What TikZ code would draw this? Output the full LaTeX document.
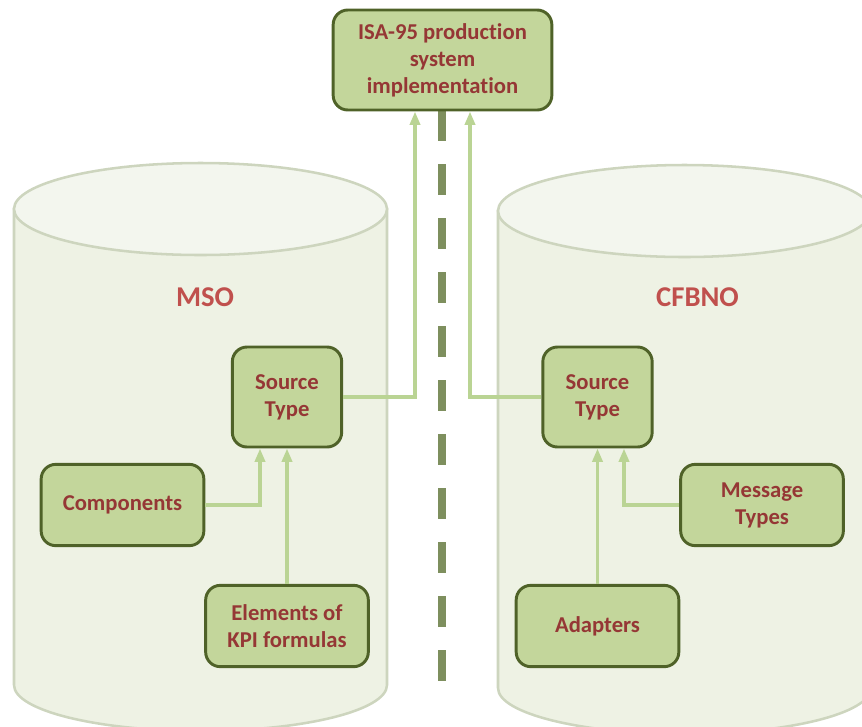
\documentclass[tikz,border=0pt]{standalone}
\usepackage{fontspec}
\setmainfont{Carlito}[Ligatures=NoCommon]
\usetikzlibrary{arrows.meta,calc}

\definecolor{cylfill}{HTML}{EEF2E4}
\definecolor{cyltop}{HTML}{F3F6EE}
\definecolor{cylline}{HTML}{CDD5BE}
\definecolor{boxfill}{HTML}{C3D69B}
\definecolor{boxline}{HTML}{4F6228}
\definecolor{boxtext}{HTML}{953735}
\definecolor{dbtext}{HTML}{C0504D}
\definecolor{connline}{HTML}{BAD494}
\definecolor{divline}{HTML}{7E8F5E}

\tikzset{
  cylbody/.style={fill=cylfill, draw=cylline, line width=1.9pt},
  cyllid/.style={fill=cyltop, draw=cylline, line width=1.9pt},
  entity/.style={draw=boxline, fill=boxfill, line width=2.2pt,
    rounded corners=11pt, align=center, text=boxtext,
    font=\fontsize{17}{20.25}\selectfont\bfseries, inner sep=0pt},
  smallbox/.style={entity, minimum width=122pt, minimum height=61pt},
  dblabel/.style={text=dbtext, font=\fontsize{21.5}{25}\selectfont\bfseries},
  conn/.style={draw=connline, line width=2.5pt,
    -{Triangle[length=10pt,width=7.5pt]}},
  divider/.style={draw=divline, line width=6pt,
    dash pattern=on 23.25pt off 17.25pt}
}

\begin{document}
\begin{tikzpicture}[x=0.75pt, y=-0.75pt]
  \useasboundingbox (0,0) rectangle (862,726);

  % left database cylinder
  \path[cylbody] (14,209) -- (14,685)
    arc[start angle=180, end angle=360, x radius=139.875pt, y radius=34.5pt]
    -- (387,209) -- cycle;
  \path[cyllid] (200.5,209) ellipse [x radius=139.875pt, y radius=34.5pt];

  % right database cylinder
  \path[cylbody] (498,211) -- (498,688)
    arc[start angle=180, end angle=360, x radius=139.875pt, y radius=34.5pt]
    -- (871,211) -- cycle;
  \path[cyllid] (684.5,211) ellipse [x radius=139.875pt, y radius=34.5pt];

  \node[dblabel] (mso) at (205,297) {MSO};
  \node[dblabel] (cfbno) at (697.5,297) {CFBNO};

  % dashed separator between the two ontologies, drawn under the top box
  \coordinate (divtop) at (442,110);
  \coordinate (divend) at (442,681);
  \draw[divider] (divtop) -- (divend);

  % boxes
  \node[entity, minimum width=164pt, minimum height=75pt] (isa) at (442.5,60)
    {ISA-95 production\\system\\implementation};
  \node[entity, minimum width=82pt, minimum height=75pt] (src1) at (287,397)
    {Source\\Type};
  \node[entity, minimum width=82pt, minimum height=75pt] (src2) at (597.5,397)
    {Source\\Type};
  \node[smallbox] (comp) at (122.5,505) {Components};
  \node[smallbox] (kpi) at (287,626) {Elements of\\KPI formulas};
  \node[smallbox] (msg) at (762,505) {Message\\Types};
  \node[smallbox] (adp) at (597.5,626) {Adapters};

  % connectors
  \draw[conn] (comp.east) -| ($(src1.south)+(-27,0)$);
  \draw[conn] (kpi.north) -- (src1.south);
  \draw[conn] (src1.east) -| ($(isa.south)+(-27.5,0)$);
  \draw[conn] (src2.west) -| ($(isa.south)+(27.5,0)$);
  \draw[conn] (adp.north) -- (src2.south);
  \draw[conn] (msg.west) -| ($(src2.south)+(26.5,0)$);
\end{tikzpicture}
\end{document}
